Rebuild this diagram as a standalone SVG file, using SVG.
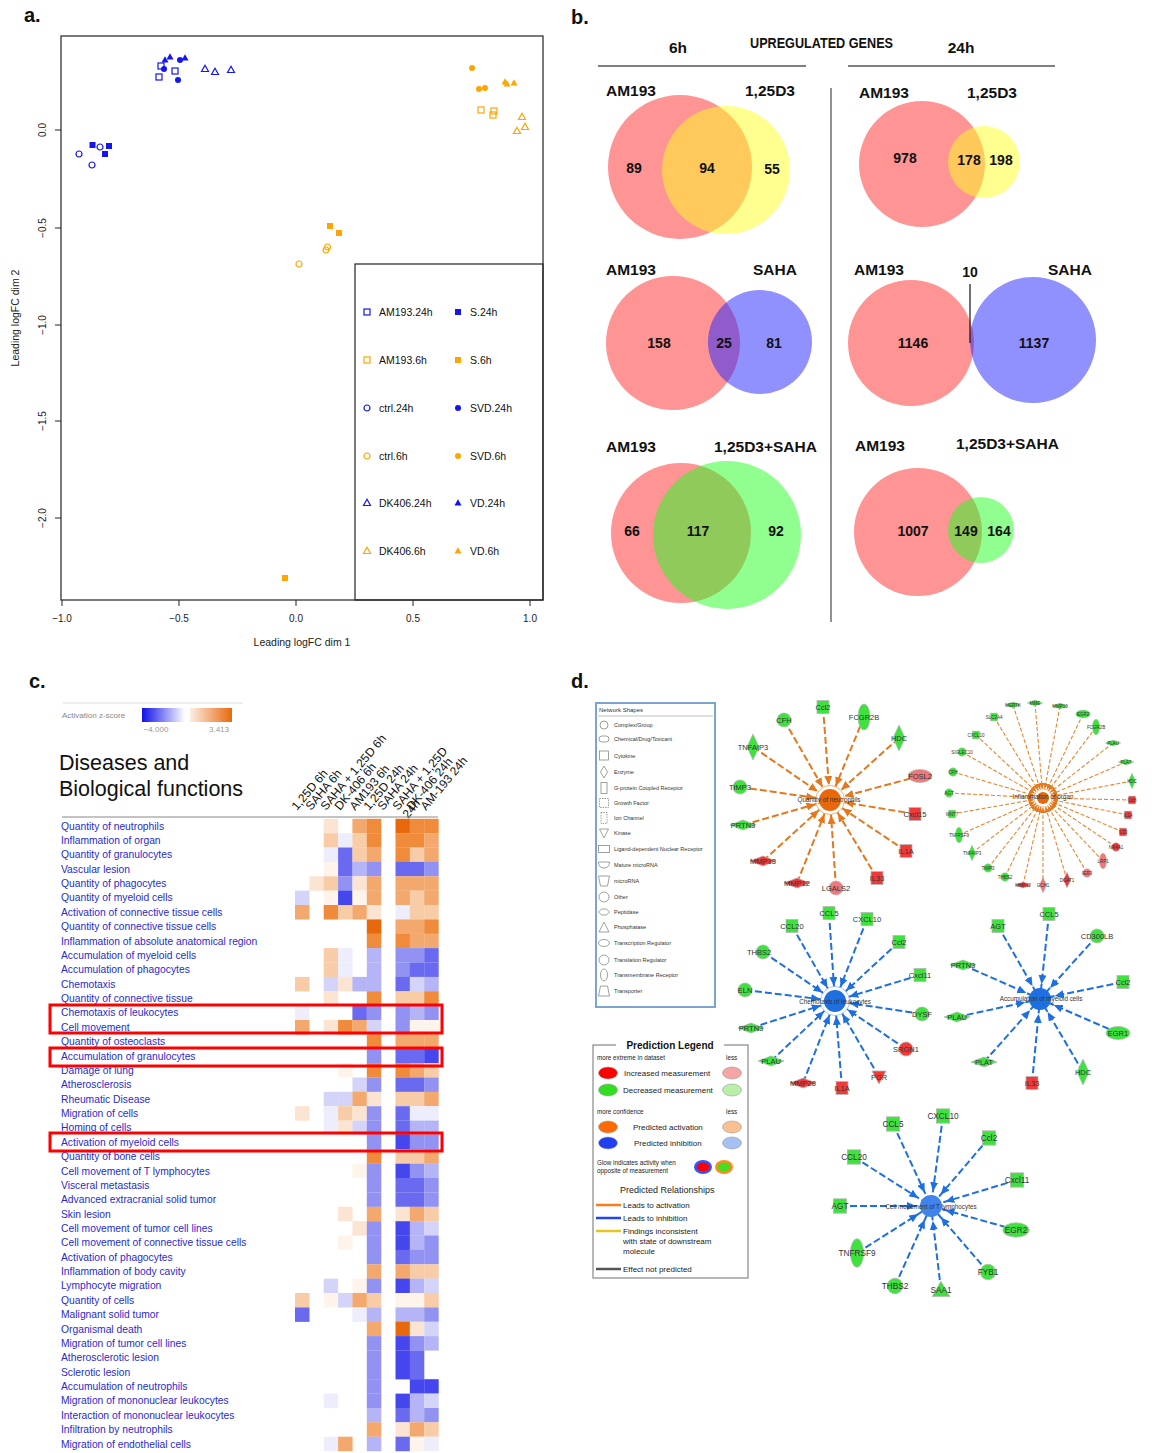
<svg xmlns="http://www.w3.org/2000/svg" width="1152" height="1453" viewBox="0 0 1152 1453">
<style>
text{font-family:"Liberation Sans",Arial,sans-serif}
.pl{font-weight:bold;font-size:20px;fill:#111}
.ax{font-size:10px;fill:#222}
.lg{font-size:10.5px;fill:#111}
.bl{fill:#1515F0}.blo{fill:none;stroke:#1515F0;stroke-width:1.2}
.or{fill:#FFA500}.oro{fill:none;stroke:#FFA500;stroke-width:1.2}
.vt{font-weight:bold;font-size:15.5px;fill:#111}
.vn{font-weight:bold;font-size:14px;fill:#111;text-anchor:middle}
.vr{fill:#FF2A2A;fill-opacity:.5}
.vy{fill:#FFFF22;fill-opacity:.5}
.vb{fill:#2222FF;fill-opacity:.5}
.vg{fill:#22FF22;fill-opacity:.5}
.hm rect{width:14.5px;height:14.5px}
.hm text{font-size:10.3px;fill:#2A2ACB}
.O3{fill:#E8690C}.O2{fill:#EF8B3B}.O1{fill:#F3A86E}.O0{fill:#F8CCA6}.Ol{fill:#FCE4D2}.Ow{fill:#FEF4EC}
.B3{fill:#4646EE}.B2{fill:#6A6AF0}.B1{fill:#9292F3}.B0{fill:#B4B4F6}.Bl{fill:#D4D4F9}.Bw{fill:#EDEDFC}
.ch{font-size:12px;fill:#111}
.rb{fill:none;stroke:#FF0000;stroke-width:3}
.g{fill:#3DE23D;stroke:#B8B8B8;stroke-width:.8}
.r{fill:#EF3A3A;stroke:#B8B8B8;stroke-width:.8}
.p{fill:#F07878;stroke:#B8B8B8;stroke-width:.8}
.nl{font-size:7.5px;fill:#333;text-anchor:middle}
.cl{font-size:6.3px;fill:#333;text-anchor:middle}
.eo{stroke:#E5781C;stroke-width:2;stroke-dasharray:7 3;fill:none}
.eo2{stroke:#E8862E;stroke-width:1.1;stroke-dasharray:4 2;fill:none}
.eb{stroke:#1E6FE0;stroke-width:2;stroke-dasharray:7 3;fill:none}
.ns{fill:none;stroke:#888;stroke-width:.8}
.nt{font-size:5.5px;fill:#333}
.pt{font-size:8px;fill:#222}
.ps{font-size:6.3px;fill:#222}
</style>
<defs>
<rect id="msq" x="-3" y="-3" width="6" height="6"/>
<circle id="mci" r="3"/>
<path id="mtr" d="M0,-3.8L3.5,2.5L-3.5,2.5Z"/>
<rect id="sq" x="-6" y="-6.5" width="12" height="13"/>
<circle id="ci" r="7"/>
<ellipse id="ev" rx="6" ry="13"/>
<ellipse id="eh" rx="12" ry="6.5"/>
<path id="dv" d="M0,-13L6,0L0,13L-6,0Z"/>
<path id="dh" d="M-13,0L0,-5L13,0L0,5Z"/>
<path id="td" d="M-7,-6L7,-6L0,7Z"/>
<path id="tu" d="M0,-8L8,6L-8,6Z"/>
<marker id="ao" markerUnits="userSpaceOnUse" markerWidth="9" markerHeight="8" refX="24" refY="4" orient="auto"><path d="M0,0L9,4L0,8z" fill="#E5781C"/></marker>
<marker id="ao2" markerUnits="userSpaceOnUse" markerWidth="6" markerHeight="5" refX="15" refY="2.5" orient="auto"><path d="M0,0L6,2.5L0,5z" fill="#E5781C"/></marker>
<marker id="ab" markerUnits="userSpaceOnUse" markerWidth="9" markerHeight="8" refX="24" refY="4" orient="auto"><path d="M0,0L9,4L0,8z" fill="#1E6FE0"/></marker>
<linearGradient id="gb"><stop offset="0" stop-color="#1010E8"/><stop offset="1" stop-color="#FFFFFF"/></linearGradient>
<linearGradient id="go"><stop offset="0" stop-color="#FCEEE4"/><stop offset="1" stop-color="#E8690C"/></linearGradient>
</defs>

<!-- ============ Panel a ============ -->
<g id="panel-a">
<text class="pl" x="24" y="22">a.</text>
<rect x="61" y="36" width="482" height="564" fill="none" stroke="#222" stroke-width="1.2"/>
<rect x="355" y="264" width="188" height="336" fill="none" stroke="#222" stroke-width="1.2"/>
<g stroke="#222" stroke-width="1">
<line x1="62" y1="600" x2="62" y2="606"/><line x1="179" y1="600" x2="179" y2="606"/><line x1="296" y1="600" x2="296" y2="606"/><line x1="413" y1="600" x2="413" y2="606"/><line x1="530" y1="600" x2="530" y2="606"/>
<line x1="55" y1="130" x2="61" y2="130"/><line x1="55" y1="228" x2="61" y2="228"/><line x1="55" y1="325" x2="61" y2="325"/><line x1="55" y1="421" x2="61" y2="421"/><line x1="55" y1="518" x2="61" y2="518"/>
</g>
<g class="ax" text-anchor="middle">
<text x="62" y="622">−1.0</text><text x="179" y="622">−0.5</text><text x="296" y="622">0.0</text><text x="413" y="622">0.5</text><text x="530" y="622">1.0</text>
<text transform="translate(46,130) rotate(-90)">0.0</text>
<text transform="translate(46,228) rotate(-90)">−0.5</text>
<text transform="translate(46,325) rotate(-90)">−1.0</text>
<text transform="translate(46,421) rotate(-90)">−1.5</text>
<text transform="translate(46,518) rotate(-90)">−2.0</text>
<text x="302" y="646" font-size="10.5">Leading logFC dim 1</text>
<text transform="translate(19,318) rotate(-90)" font-size="10.5">Leading logFC dim 2</text>
</g>
<g id="points">
<use href="#mci" class="blo" x="79" y="154"/><use href="#mci" class="blo" x="92" y="165"/><use href="#mci" class="blo" x="100" y="147"/>
<use href="#msq" class="bl" x="92.5" y="145"/><use href="#msq" class="bl" x="109" y="146"/><use href="#msq" class="bl" x="105" y="154"/>
<use href="#msq" class="blo" x="159" y="77"/><use href="#msq" class="blo" x="161" y="66"/><use href="#msq" class="blo" x="175" y="71"/>
<use href="#mci" class="bl" x="164" y="69"/><use href="#mci" class="bl" x="180" y="60"/><use href="#mci" class="bl" x="178" y="80"/>
<use href="#mtr" class="bl" x="165" y="60"/><use href="#mtr" class="bl" x="170" y="57"/><use href="#mtr" class="bl" x="185" y="58"/>
<use href="#mtr" class="blo" x="205" y="69"/><use href="#mtr" class="blo" x="215" y="72"/><use href="#mtr" class="blo" x="231" y="70"/>
<use href="#mci" class="or" x="472" y="68"/><use href="#mci" class="or" x="479" y="89"/><use href="#mci" class="or" x="485" y="88"/>
<use href="#mtr" class="or" x="505" y="82"/><use href="#mtr" class="or" x="507" y="84"/><use href="#mtr" class="or" x="514" y="83"/>
<use href="#msq" class="oro" x="481" y="110"/><use href="#msq" class="oro" x="494" y="111"/><use href="#msq" class="oro" x="493" y="115"/>
<use href="#mtr" class="oro" x="522" y="117"/><use href="#mtr" class="oro" x="517" y="131"/><use href="#mtr" class="oro" x="525" y="127"/>
<use href="#msq" class="or" x="330" y="226"/><use href="#msq" class="or" x="339" y="233"/><use href="#msq" class="or" x="285" y="578"/>
<use href="#mci" class="oro" x="326" y="250"/><use href="#mci" class="oro" x="327.5" y="247"/><use href="#mci" class="oro" x="299" y="264"/>
</g>
<g id="legend-a">
<use href="#msq" class="blo" x="367" y="312"/><text class="lg" x="379" y="316">AM193.24h</text>
<use href="#msq" class="bl" x="458" y="312"/><text class="lg" x="470" y="316">S.24h</text>
<use href="#msq" class="oro" x="367" y="360"/><text class="lg" x="379" y="364">AM193.6h</text>
<use href="#msq" class="or" x="458" y="360"/><text class="lg" x="470" y="364">S.6h</text>
<use href="#mci" class="blo" x="367" y="408"/><text class="lg" x="379" y="412">ctrl.24h</text>
<use href="#mci" class="bl" x="458" y="408"/><text class="lg" x="470" y="412">SVD.24h</text>
<use href="#mci" class="oro" x="367" y="456"/><text class="lg" x="379" y="460">ctrl.6h</text>
<use href="#mci" class="or" x="458" y="456"/><text class="lg" x="470" y="460">SVD.6h</text>
<use href="#mtr" class="blo" x="367" y="503"/><text class="lg" x="379" y="507">DK406.24h</text>
<use href="#mtr" class="bl" x="458" y="503"/><text class="lg" x="470" y="507">VD.24h</text>
<use href="#mtr" class="oro" x="367" y="551"/><text class="lg" x="379" y="555">DK406.6h</text>
<use href="#mtr" class="or" x="458" y="551"/><text class="lg" x="470" y="555">VD.6h</text>
</g>
</g>

<!-- ============ Panel b ============ -->
<g id="panel-b">
<text class="pl" x="571" y="24">b.</text>
<text class="vt" x="678" y="53" font-size="14" text-anchor="middle">6h</text>
<text class="vt" x="750" y="48" font-size="13" textLength="143" lengthAdjust="spacingAndGlyphs">UPREGULATED GENES</text>
<text class="vt" x="961" y="53" font-size="14" text-anchor="middle">24h</text>
<g stroke="#555" stroke-width="1.3">
<line x1="598" y1="66" x2="806" y2="66"/><line x1="848" y1="66" x2="1055" y2="66"/><line x1="831" y1="88" x2="831" y2="622"/>
</g>
<g id="venn-6h-125D3">
<circle class="vr" cx="680" cy="167" r="72"/><circle class="vy" cx="726" cy="170" r="64"/>
<text class="vt" x="606" y="96">AM193</text><text class="vt" x="745" y="96">1,25D3</text>
<text class="vn" x="634" y="173">89</text><text class="vn" x="707" y="173">94</text><text class="vn" x="772" y="174">55</text>
</g>
<g id="venn-24h-125D3">
<circle class="vr" cx="922" cy="164" r="63"/><circle class="vy" cx="984" cy="162" r="36"/>
<text class="vt" x="859" y="98">AM193</text><text class="vt" x="967" y="98">1,25D3</text>
<text class="vn" x="905" y="163">978</text><text class="vn" x="969" y="165">178</text><text class="vn" x="1001" y="165">198</text>
</g>
<g id="venn-6h-SAHA">
<circle class="vr" cx="673" cy="343" r="67"/><circle class="vb" cx="760" cy="342" r="52"/>
<text class="vt" x="606" y="275">AM193</text><text class="vt" x="753" y="275">SAHA</text>
<text class="vn" x="659" y="348">158</text><text class="vn" x="724" y="348">25</text><text class="vn" x="774" y="348">81</text>
</g>
<g id="venn-24h-SAHA">
<circle class="vr" cx="911" cy="343" r="63"/><circle class="vb" cx="1033" cy="340" r="63"/>
<text class="vt" x="854" y="275">AM193</text><text class="vt" x="1048" y="275">SAHA</text>
<text class="vn" x="970" y="277">10</text>
<line x1="970" y1="284" x2="970" y2="343" stroke="#111" stroke-width="1.2"/>
<text class="vn" x="913" y="348">1146</text><text class="vn" x="1034" y="348">1137</text>
</g>
<g id="venn-6h-combo">
<circle class="vr" cx="681" cy="533" r="70"/><circle class="vg" cx="727" cy="535" r="74"/>
<text class="vt" x="606" y="452">AM193</text><text class="vt" x="714" y="452">1,25D3+SAHA</text>
<text class="vn" x="632" y="536">66</text><text class="vn" x="698" y="536">117</text><text class="vn" x="776" y="536">92</text>
</g>
<g id="venn-24h-combo">
<circle class="vr" cx="918" cy="532" r="64"/><circle class="vg" cx="981" cy="530" r="33"/>
<text class="vt" x="855" y="451">AM193</text><text class="vt" x="956" y="449">1,25D3+SAHA</text>
<text class="vn" x="913" y="536">1007</text><text class="vn" x="966" y="536">149</text><text class="vn" x="999" y="536">164</text>
</g>
</g>

<!-- ============ Panel c ============ -->
<g id="panel-c">
<text class="pl" x="29" y="688">c.</text>
<line x1="63" y1="703" x2="243" y2="703" stroke="#DDD"/>
<text x="62" y="718" font-size="8" fill="#888">Activation z-score</text>
<rect x="142" y="708" width="43" height="14" fill="url(#gb)"/>
<rect x="190" y="708" width="42" height="14" fill="url(#go)"/>
<text x="156" y="732" font-size="8" fill="#999" text-anchor="middle">−4.000</text>
<text x="219" y="732" font-size="8" fill="#999" text-anchor="middle">3.413</text>
<text x="59" y="770" font-size="21.5" fill="#111">Diseases and</text>
<text x="59" y="796" font-size="21.5" fill="#111">Biological functions</text>
<g class="ch">
<text transform="translate(297,811) rotate(-50)">1,25D 6h</text>
<text transform="translate(311,811) rotate(-50)">SAHA 6h</text>
<text transform="translate(326,811) rotate(-50)">SAHA + 1,25D 6h</text>
<text transform="translate(340,811) rotate(-50)">DK-406 6h</text>
<text transform="translate(355,811) rotate(-50)">AM193 6h</text>
<text transform="translate(369,811) rotate(-50)">1,25D 24h</text>
<text transform="translate(383,811) rotate(-50)">SAHA 24h</text>
<text transform="translate(398,811) rotate(-50)">SAHA + 1,25D</text>
<text transform="translate(408,819) rotate(-50)">24h</text>
<text transform="translate(412,811) rotate(-50)">DK-406 24h</text>
<text transform="translate(426,811) rotate(-50)">AM-193 24h</text>
</g>
<line x1="62" y1="817" x2="438" y2="817" stroke="#888" stroke-width="1"/>
<g class="hm">
<g transform="translate(0,818.8)"><text x="61" y="10.9">Quantity of neutrophils</text><rect x="323.7" class="Ol"/><rect x="352.4" class="O1"/><rect x="366.8" class="O2"/><rect x="395.5" class="O3"/><rect x="409.8" class="O2"/><rect x="424.2" class="O2"/></g>
<g transform="translate(0,833.2)"><text x="61" y="10.9">Inflammation of organ</text><rect x="323.7" class="O0"/><rect x="338.1" class="Bw"/><rect x="352.4" class="O0"/><rect x="366.8" class="O2"/><rect x="395.5" class="O2"/><rect x="409.8" class="O2"/><rect x="424.2" class="O1"/></g>
<g transform="translate(0,847.5)"><text x="61" y="10.9">Quantity of granulocytes</text><rect x="323.7" class="Bw"/><rect x="338.1" class="B2"/><rect x="352.4" class="O0"/><rect x="366.8" class="O1"/><rect x="395.5" class="O2"/><rect x="409.8" class="O0"/><rect x="424.2" class="O1"/></g>
<g transform="translate(0,861.9)"><text x="61" y="10.9">Vascular lesion</text><rect x="323.7" class="Ow"/><rect x="338.1" class="B2"/><rect x="352.4" class="B0"/><rect x="366.8" class="B1"/><rect x="395.5" class="B2"/><rect x="409.8" class="B2"/><rect x="424.2" class="B1"/></g>
<g transform="translate(0,876.3)"><text x="61" y="10.9">Quantity of phagocytes</text><rect x="309.4" class="Ol"/><rect x="323.7" class="O0"/><rect x="338.1" class="B1"/><rect x="352.4" class="Ol"/><rect x="366.8" class="O1"/><rect x="395.5" class="O1"/><rect x="409.8" class="O1"/><rect x="424.2" class="O1"/></g>
<g transform="translate(0,890.6)"><text x="61" y="10.9">Quantity of myeloid cells</text><rect x="295" class="Bl"/><rect x="323.7" class="Ow"/><rect x="338.1" class="B3"/><rect x="352.4" class="Ow"/><rect x="366.8" class="O1"/><rect x="395.5" class="O1"/><rect x="409.8" class="O0"/><rect x="424.2" class="O1"/></g>
<g transform="translate(0,905)"><text x="61" y="10.9">Activation of connective tissue cells</text><rect x="295" class="O1"/><rect x="323.7" class="O2"/><rect x="338.1" class="O0"/><rect x="352.4" class="O1"/><rect x="366.8" class="Ol"/><rect x="395.5" class="Bw"/><rect x="409.8" class="O0"/><rect x="424.2" class="O0"/></g>
<g transform="translate(0,919.4)"><text x="61" y="10.9">Quantity of connective tissue cells</text><rect x="366.8" class="O3"/><rect x="395.5" class="O1"/><rect x="409.8" class="O1"/><rect x="424.2" class="O2"/></g>
<g transform="translate(0,933.8)"><text x="61" y="10.9">Inflammation of absolute anatomical region</text><rect x="366.8" class="O2"/><rect x="395.5" class="O2"/><rect x="409.8" class="O1"/><rect x="424.2" class="O1"/></g>
<g transform="translate(0,948.1)"><text x="61" y="10.9">Accumulation of myeloid cells</text><rect x="323.7" class="O0"/><rect x="338.1" class="Bw"/><rect x="366.8" class="B0"/><rect x="395.5" class="B1"/><rect x="409.8" class="B1"/><rect x="424.2" class="B2"/></g>
<g transform="translate(0,962.5)"><text x="61" y="10.9">Accumulation of phagocytes</text><rect x="323.7" class="O0"/><rect x="338.1" class="Bw"/><rect x="366.8" class="B0"/><rect x="395.5" class="B1"/><rect x="409.8" class="B2"/><rect x="424.2" class="B2"/></g>
<g transform="translate(0,976.9)"><text x="61" y="10.9">Chemotaxis</text><rect x="295" class="O0"/><rect x="323.7" class="Bl"/><rect x="338.1" class="Ol"/><rect x="352.4" class="B0"/><rect x="366.8" class="B0"/><rect x="395.5" class="B2"/><rect x="409.8" class="Bl"/><rect x="424.2" class="B0"/></g>
<g transform="translate(0,991.2)"><text x="61" y="10.9">Quantity of connective tissue</text><rect x="323.7" class="Ol"/><rect x="366.8" class="O2"/><rect x="395.5" class="O0"/><rect x="409.8" class="O0"/><rect x="424.2" class="O2"/></g>
<g transform="translate(0,1005.6)"><text x="61" y="10.9">Chemotaxis of leukocytes</text><rect x="295" class="Bw"/><rect x="352.4" class="B2"/><rect x="366.8" class="B1"/><rect x="395.5" class="B1"/><rect x="409.8" class="B0"/><rect x="424.2" class="B1"/></g>
<g transform="translate(0,1020)"><text x="61" y="10.9">Cell movement</text><rect x="295" class="O1"/><rect x="323.7" class="Ol"/><rect x="338.1" class="O2"/><rect x="352.4" class="O1"/><rect x="366.8" class="Bl"/><rect x="395.5" class="B1"/><rect x="409.8" class="Ow"/><rect x="424.2" class="Ow"/></g>
<g transform="translate(0,1034.3)"><text x="61" y="10.9">Quantity of osteoclasts</text><rect x="366.8" class="O2"/><rect x="395.5" class="O1"/><rect x="409.8" class="O1"/><rect x="424.2" class="O1"/></g>
<g transform="translate(0,1048.7)"><text x="61" y="10.9">Accumulation of granulocytes</text><rect x="366.8" class="B1"/><rect x="395.5" class="B2"/><rect x="409.8" class="B2"/><rect x="424.2" class="B3"/></g>
<g transform="translate(0,1063.1)"><text x="61" y="10.9">Damage of lung</text><rect x="338.1" class="Ow"/><rect x="366.8" class="O2"/><rect x="395.5" class="O2"/><rect x="409.8" class="O1"/><rect x="424.2" class="O0"/></g>
<g transform="translate(0,1077.5)"><text x="61" y="10.9">Atherosclerosis</text><rect x="352.4" class="Bl"/><rect x="366.8" class="B1"/><rect x="395.5" class="B2"/><rect x="409.8" class="B2"/><rect x="424.2" class="B1"/></g>
<g transform="translate(0,1091.8)"><text x="61" y="10.9">Rheumatic Disease</text><rect x="323.7" class="Bl"/><rect x="338.1" class="Bl"/><rect x="352.4" class="O1"/><rect x="366.8" class="Ol"/><rect x="395.5" class="O0"/><rect x="409.8" class="O0"/><rect x="424.2" class="O1"/></g>
<g transform="translate(0,1106.2)"><text x="61" y="10.9">Migration of cells</text><rect x="295" class="Ol"/><rect x="323.7" class="Bw"/><rect x="338.1" class="O0"/><rect x="352.4" class="Ol"/><rect x="366.8" class="B1"/><rect x="395.5" class="B2"/><rect x="409.8" class="Bw"/><rect x="424.2" class="Bw"/></g>
<g transform="translate(0,1120.6)"><text x="61" y="10.9">Homing of cells</text><rect x="323.7" class="Bw"/><rect x="338.1" class="Ol"/><rect x="352.4" class="Bl"/><rect x="366.8" class="B1"/><rect x="395.5" class="B2"/><rect x="409.8" class="B0"/><rect x="424.2" class="B0"/></g>
<g transform="translate(0,1134.9)"><text x="61" y="10.9">Activation of myeloid cells</text><rect x="366.8" class="B1"/><rect x="395.5" class="B3"/><rect x="409.8" class="B1"/><rect x="424.2" class="B1"/></g>
<g transform="translate(0,1149.3)"><text x="61" y="10.9">Quantity of bone cells</text><rect x="366.8" class="O2"/><rect x="395.5" class="O0"/><rect x="409.8" class="O0"/><rect x="424.2" class="O1"/></g>
<g transform="translate(0,1163.7)"><text x="61" y="10.9">Cell movement of T lymphocytes</text><rect x="352.4" class="Ow"/><rect x="366.8" class="B1"/><rect x="395.5" class="B3"/><rect x="409.8" class="B1"/><rect x="424.2" class="B0"/></g>
<g transform="translate(0,1178)"><text x="61" y="10.9">Visceral metastasis</text><rect x="366.8" class="B1"/><rect x="395.5" class="B2"/><rect x="409.8" class="B2"/><rect x="424.2" class="B1"/></g>
<g transform="translate(0,1192.4)"><text x="61" y="10.9">Advanced extracranial solid tumor</text><rect x="366.8" class="B1"/><rect x="395.5" class="B2"/><rect x="409.8" class="B2"/><rect x="424.2" class="B1"/></g>
<g transform="translate(0,1206.8)"><text x="61" y="10.9">Skin lesion</text><rect x="338.1" class="Ol"/><rect x="366.8" class="O1"/><rect x="395.5" class="Ol"/><rect x="409.8" class="O1"/><rect x="424.2" class="O0"/></g>
<g transform="translate(0,1221.2)"><text x="61" y="10.9">Cell movement of tumor cell lines</text><rect x="352.4" class="Ol"/><rect x="366.8" class="B1"/><rect x="395.5" class="B3"/><rect x="409.8" class="B0"/><rect x="424.2" class="Bl"/></g>
<g transform="translate(0,1235.5)"><text x="61" y="10.9">Cell movement of connective tissue cells</text><rect x="338.1" class="Ow"/><rect x="366.8" class="B1"/><rect x="395.5" class="B3"/><rect x="409.8" class="B0"/><rect x="424.2" class="B1"/></g>
<g transform="translate(0,1249.9)"><text x="61" y="10.9">Activation of phagocytes</text><rect x="366.8" class="B1"/><rect x="395.5" class="B2"/><rect x="409.8" class="B1"/><rect x="424.2" class="B1"/></g>
<g transform="translate(0,1264.3)"><text x="61" y="10.9">Inflammation of body cavity</text><rect x="366.8" class="O1"/><rect x="395.5" class="O1"/><rect x="409.8" class="O0"/><rect x="424.2" class="O0"/></g>
<g transform="translate(0,1278.6)"><text x="61" y="10.9">Lymphocyte migration</text><rect x="323.7" class="Bl"/><rect x="352.4" class="Ow"/><rect x="366.8" class="B1"/><rect x="395.5" class="B3"/><rect x="409.8" class="B0"/><rect x="424.2" class="Bl"/></g>
<g transform="translate(0,1293)"><text x="61" y="10.9">Quantity of cells</text><rect x="295" class="O0"/><rect x="323.7" class="Ow"/><rect x="338.1" class="Bl"/><rect x="352.4" class="O1"/><rect x="366.8" class="O0"/><rect x="395.5" class="Ow"/><rect x="409.8" class="Ow"/><rect x="424.2" class="O0"/></g>
<g transform="translate(0,1307.4)"><text x="61" y="10.9">Malignant solid tumor</text><rect x="295" class="B2"/><rect x="352.4" class="Bw"/><rect x="366.8" class="B0"/><rect x="395.5" class="B0"/><rect x="409.8" class="B0"/><rect x="424.2" class="B1"/></g>
<g transform="translate(0,1321.7)"><text x="61" y="10.9">Organismal death</text><rect x="366.8" class="O1"/><rect x="395.5" class="O3"/><rect x="409.8" class="Ol"/><rect x="424.2" class="Bl"/></g>
<g transform="translate(0,1336.1)"><text x="61" y="10.9">Migration of tumor cell lines</text><rect x="366.8" class="B1"/><rect x="395.5" class="B3"/><rect x="409.8" class="B1"/><rect x="424.2" class="B0"/></g>
<g transform="translate(0,1350.5)"><text x="61" y="10.9">Atherosclerotic lesion</text><rect x="366.8" class="B1"/><rect x="395.5" class="B3"/><rect x="409.8" class="B2"/></g>
<g transform="translate(0,1364.9)"><text x="61" y="10.9">Sclerotic lesion</text><rect x="366.8" class="B1"/><rect x="395.5" class="B3"/><rect x="409.8" class="B2"/></g>
<g transform="translate(0,1379.2)"><text x="61" y="10.9">Accumulation of neutrophils</text><rect x="366.8" class="B1"/><rect x="409.8" class="B3"/><rect x="424.2" class="B3"/></g>
<g transform="translate(0,1393.6)"><text x="61" y="10.9">Migration of mononuclear leukocytes</text><rect x="323.7" class="Bw"/><rect x="366.8" class="B1"/><rect x="395.5" class="B3"/><rect x="409.8" class="B0"/><rect x="424.2" class="Bl"/></g>
<g transform="translate(0,1408)"><text x="61" y="10.9">Interaction of mononuclear leukocytes</text><rect x="366.8" class="B0"/><rect x="395.5" class="B2"/><rect x="409.8" class="B0"/><rect x="424.2" class="B1"/></g>
<g transform="translate(0,1422.3)"><text x="61" y="10.9">Infiltration by neutrophils</text><rect x="366.8" class="O1"/><rect x="395.5" class="Ol"/><rect x="409.8" class="O1"/><rect x="424.2" class="O0"/></g>
<g transform="translate(0,1436.7)"><text x="61" y="10.9">Migration of endothelial cells</text><rect x="323.7" class="Bw"/><rect x="338.1" class="O1"/><rect x="366.8" class="B0"/><rect x="395.5" class="B2"/><rect x="409.8" class="Ow"/><rect x="424.2" class="Bw"/></g>
</g>
<rect class="rb" x="50" y="1005" width="392" height="28"/>
<rect class="rb" x="50" y="1048" width="392" height="18"/>
<rect class="rb" x="50" y="1133" width="392" height="18"/>
</g>

<!-- ============ Panel d ============ -->
<g id="panel-d">
<text class="pl" x="571" y="688">d.</text>

<g id="network-shapes-legend">
<rect x="596" y="703" width="119" height="304" fill="#fff" stroke="#7BA4D0" stroke-width="2"/>
<text x="599" y="712" font-size="6" fill="#333">Network Shapes</text>
<line x1="598" y1="716" x2="713" y2="716" stroke="#999" stroke-width=".6"/>
<circle class="ns" cx="604" cy="725" r="4" stroke-width="2"/><text class="nt" x="614" y="727">Complex/Group</text>
<rect class="ns" x="599" y="736" width="10" height="6" rx="3"/><text class="nt" x="614" y="741">Chemical/Drug/Toxicant</text>
<rect class="ns" x="599.5" y="751" width="9" height="9"/><text class="nt" x="614" y="758">Cytokine</text>
<path class="ns" d="M604,766L607.5,772L604,778L600.5,772Z"/><text class="nt" x="614" y="774">Enzyme</text>
<rect class="ns" x="601" y="782.5" width="6" height="11"/><text class="nt" x="614" y="790">G-protein Coupled Receptor</text>
<rect class="ns" x="599.5" y="798.5" width="9" height="9" stroke-dasharray="1.5 1"/><text class="nt" x="614" y="805">Growth Factor</text>
<rect class="ns" x="601" y="812.5" width="6" height="11" stroke-dasharray="1.5 1"/><text class="nt" x="614" y="820">Ion Channel</text>
<path class="ns" d="M599.5,829L608.5,829L604,838Z"/><text class="nt" x="614" y="835">Kinase</text>
<rect class="ns" x="598.5" y="845.5" width="11" height="7"/><text class="nt" x="614" y="851">Ligand-dependent Nuclear Receptor</text>
<path class="ns" d="M598.5,862L609.5,862Q609.5,868 604,868Q598.5,868 598.5,862Z"/><text class="nt" x="614" y="867">Mature microRNA</text>
<path class="ns" d="M598.5,876L609.5,876L607.5,886L600.5,886Z"/><text class="nt" x="614" y="883">microRNA</text>
<circle class="ns" cx="604" cy="897" r="5"/><text class="nt" x="614" y="899">Other</text>
<path class="ns" d="M598.5,912L601.5,909L606.5,909L609.5,912L606.5,915L601.5,915Z"/><text class="nt" x="614" y="914">Peptidase</text>
<path class="ns" d="M604,922L609,932L599,932Z"/><text class="nt" x="614" y="929">Phosphatase</text>
<ellipse class="ns" cx="604" cy="943" rx="5.5" ry="3.5"/><text class="nt" x="614" y="945">Transcription Regulator</text>
<circle class="ns" cx="604" cy="960" r="5"/><text class="nt" x="614" y="962">Translation Regulator</text>
<ellipse class="ns" cx="604" cy="975" rx="3.5" ry="6"/><text class="nt" x="614" y="977">Transmembrane Receptor</text>
<path class="ns" d="M600.5,986L607.5,986L609.5,996L598.5,996Z"/><text class="nt" x="614" y="993">Transporter</text>
</g>

<g id="prediction-legend">
<rect x="593" y="1045" width="155" height="233" fill="#fff" stroke="#888" stroke-width="1.2"/>
<rect x="616" y="1039" width="108" height="12" fill="#fff"/>
<text x="670" y="1049" font-size="10" font-weight="bold" fill="#111" text-anchor="middle">Prediction Legend</text>
<text class="ps" x="597" y="1060">more extreme in dataset</text><text class="ps" x="726" y="1060">less</text>
<ellipse cx="608" cy="1073" rx="9.5" ry="6" fill="#FF0000" stroke="#999" stroke-width=".6"/>
<text class="pt" x="624" y="1076">Increased measurement</text>
<ellipse cx="732" cy="1073" rx="9.5" ry="6" fill="#F4A6A6" stroke="#999" stroke-width=".6"/>
<ellipse cx="608" cy="1090" rx="9.5" ry="6" fill="#33DD22" stroke="#999" stroke-width=".6"/>
<text class="pt" x="623" y="1093">Decreased measurement</text>
<ellipse cx="732" cy="1090" rx="9.5" ry="6" fill="#B7F0A6" stroke="#999" stroke-width=".6"/>
<text class="ps" x="597" y="1114">more confidence</text><text class="ps" x="726" y="1114">less</text>
<ellipse cx="608" cy="1127" rx="9.5" ry="6" fill="#FF6A00" stroke="#999" stroke-width=".6"/>
<text class="pt" x="633" y="1130">Predicted activation</text>
<ellipse cx="732" cy="1127" rx="9.5" ry="6" fill="#FBC08F" stroke="#999" stroke-width=".6"/>
<ellipse cx="608" cy="1143" rx="9.5" ry="6" fill="#2040F0" stroke="#999" stroke-width=".6"/>
<text class="pt" x="634" y="1146">Predicted inhibition</text>
<ellipse cx="732" cy="1143" rx="9.5" ry="6" fill="#A6C0F4" stroke="#999" stroke-width=".6"/>
<text class="ps" x="597" y="1165">Glow indicates activity when</text>
<text class="ps" x="597" y="1173">opposite of measurement</text>
<ellipse cx="703" cy="1167" rx="9" ry="7" fill="#3355FF"/><ellipse cx="703" cy="1167" rx="6.3" ry="4.6" fill="#FF0000"/>
<ellipse cx="724" cy="1167" rx="9" ry="7" fill="#FF8A1E"/><ellipse cx="724" cy="1167" rx="6.3" ry="4.6" fill="#44DD22"/>
<text x="620" y="1193" font-size="9" fill="#222">Predicted Relationships</text>
<line x1="596" y1="1205" x2="621" y2="1205" stroke="#FF7A1A" stroke-width="2.5"/><text class="pt" x="623" y="1208">Leads to activation</text>
<line x1="596" y1="1218" x2="621" y2="1218" stroke="#2244EE" stroke-width="2.5"/><text class="pt" x="623" y="1221">Leads to inhibition</text>
<line x1="596" y1="1231" x2="621" y2="1231" stroke="#E5C61A" stroke-width="2.5"/><text class="pt" x="623" y="1234">Findings inconsistent</text>
<text class="pt" x="623" y="1244">with state of downstream</text><text class="pt" x="623" y="1254">molecule</text>
<line x1="596" y1="1269" x2="621" y2="1269" stroke="#555" stroke-width="2.5"/><text class="pt" x="623" y="1272">Effect not predicted</text>
</g>

<!-- connectors -->
<g id="connectors">
<g class="eo" marker-end="url(#ao)">
<line x1="823" y1="707" x2="830" y2="800"/><line x1="784" y1="720" x2="830" y2="800"/><line x1="864" y1="717" x2="830" y2="800"/><line x1="899" y1="738" x2="830" y2="800"/><line x1="753" y1="747" x2="830" y2="800"/><line x1="920" y1="776" x2="830" y2="800"/><line x1="740" y1="787" x2="830" y2="800"/><line x1="915" y1="814" x2="830" y2="800"/><line x1="743" y1="825" x2="830" y2="800"/><line x1="906" y1="851" x2="830" y2="800"/><line x1="763" y1="861" x2="830" y2="800"/><line x1="877" y1="878" x2="830" y2="800"/><line x1="797" y1="883" x2="830" y2="800"/><line x1="836" y1="888" x2="830" y2="800"/>
</g>
<g class="eo2" marker-end="url(#ao2)">
<line x1="1013" y1="705" x2="1043" y2="798"/><line x1="1035" y1="703" x2="1043" y2="798"/><line x1="1060" y1="706" x2="1043" y2="798"/><line x1="1083" y1="714" x2="1043" y2="798"/><line x1="994" y1="717" x2="1043" y2="798"/><line x1="1096" y1="727" x2="1043" y2="798"/><line x1="976" y1="735" x2="1043" y2="798"/><line x1="1113" y1="743" x2="1043" y2="798"/><line x1="962" y1="752" x2="1043" y2="798"/><line x1="1126" y1="762" x2="1043" y2="798"/><line x1="953" y1="772" x2="1043" y2="798"/><line x1="1132" y1="781" x2="1043" y2="798"/><line x1="949" y1="793" x2="1043" y2="798"/><line x1="1132" y1="800" x2="1043" y2="798"/><line x1="952" y1="814" x2="1043" y2="798"/><line x1="1128" y1="815" x2="1043" y2="798"/><line x1="1123" y1="832" x2="1043" y2="798"/><line x1="959" y1="835" x2="1043" y2="798"/><line x1="1116" y1="847" x2="1043" y2="798"/><line x1="972" y1="853" x2="1043" y2="798"/><line x1="1103" y1="861" x2="1043" y2="798"/><line x1="988" y1="868" x2="1043" y2="798"/><line x1="1087" y1="873" x2="1043" y2="798"/><line x1="1005" y1="877" x2="1043" y2="798"/><line x1="1023" y1="885" x2="1043" y2="798"/><line x1="1043" y1="885" x2="1043" y2="798"/><line x1="1067" y1="880" x2="1043" y2="798"/>
</g>
<g class="eb" marker-end="url(#ab)">
<line x1="829" y1="913" x2="835" y2="1001"/><line x1="792" y1="926" x2="835" y2="1001"/><line x1="867" y1="919" x2="835" y2="1001"/><line x1="899" y1="942" x2="835" y2="1001"/><line x1="763" y1="952" x2="835" y2="1001"/><line x1="920" y1="975" x2="835" y2="1001"/><line x1="745" y1="990" x2="835" y2="1001"/><line x1="922" y1="1014" x2="835" y2="1001"/><line x1="751" y1="1028" x2="835" y2="1001"/><line x1="906" y1="1049" x2="835" y2="1001"/><line x1="771" y1="1061" x2="835" y2="1001"/><line x1="879" y1="1077" x2="835" y2="1001"/><line x1="803" y1="1083" x2="835" y2="1001"/><line x1="842" y1="1088" x2="835" y2="1001"/>
<line x1="1049" y1="914" x2="1040" y2="999"/><line x1="998" y1="926" x2="1040" y2="999"/><line x1="1097" y1="936" x2="1040" y2="999"/><line x1="963" y1="965" x2="1040" y2="999"/><line x1="1123" y1="982" x2="1040" y2="999"/><line x1="957" y1="1017" x2="1040" y2="999"/><line x1="1118" y1="1033" x2="1040" y2="999"/><line x1="984" y1="1062" x2="1040" y2="999"/><line x1="1083" y1="1072" x2="1040" y2="999"/><line x1="1032" y1="1083" x2="1040" y2="999"/>
<line x1="893" y1="1124" x2="931" y2="1206"/><line x1="943" y1="1116" x2="931" y2="1206"/><line x1="989" y1="1138" x2="931" y2="1206"/><line x1="854" y1="1157" x2="931" y2="1206"/><line x1="1017" y1="1180" x2="931" y2="1206"/><line x1="840" y1="1206" x2="931" y2="1206"/><line x1="1016" y1="1230" x2="931" y2="1206"/><line x1="857" y1="1253" x2="931" y2="1206"/><line x1="988" y1="1272" x2="931" y2="1206"/><line x1="895" y1="1286" x2="931" y2="1206"/><line x1="941" y1="1290" x2="931" y2="1206"/>
</g>
</g>

<!-- network 1: Quantity of neutrophils -->
<g id="net1">
<g id="n1-center"><circle cx="830" cy="800" r="14.5" fill="#fff" stroke="#E8A060" stroke-width=".8"/><circle cx="830" cy="800" r="11" fill="#E8690C"/><text class="cl" x="829" y="802" font-size="6.8">Quantity of neutrophils</text></g>
<g id="n1-Ccl2" transform="translate(823,707)"><use href="#sq" class="g"/><text class="nl" y="2.5">Ccl2</text></g>
<g id="n1-CFH" transform="translate(784,720)"><use href="#ci" class="g"/><text class="nl" y="2.5">CFH</text></g>
<g id="n1-FCGR2B" transform="translate(864,717)"><use href="#ev" class="g"/><text class="nl" y="2.5">FCGR2B</text></g>
<g id="n1-HDC" transform="translate(899,738)"><use href="#dv" class="g"/><text class="nl" y="2.5">HDC</text></g>
<g id="n1-TNFAIP3" transform="translate(753,747)"><use href="#dv" class="g"/><text class="nl" y="2.5">TNFAIP3</text></g>
<g id="n1-FOSL2" transform="translate(920,776)"><use href="#eh" class="p"/><text class="nl" y="2.5">FOSL2</text></g>
<g id="n1-TIMP3" transform="translate(740,787)"><use href="#ci" class="g"/><text class="nl" y="2.5">TIMP3</text></g>
<g id="n1-Cxcl15" transform="translate(915,814)"><use href="#sq" class="r"/><text class="nl" y="2.5">Cxcl15</text></g>
<g id="n1-PRTN3" transform="translate(743,825)"><use href="#dh" class="g"/><text class="nl" y="2.5">PRTN3</text></g>
<g id="n1-IL1A" transform="translate(906,851)"><use href="#sq" class="r"/><text class="nl" y="2.5">IL1A</text></g>
<g id="n1-MMP13" transform="translate(763,861)"><use href="#dh" class="r"/><text class="nl" y="2.5">MMP13</text></g>
<g id="n1-IL33" transform="translate(877,878)"><use href="#sq" class="r"/><text class="nl" y="2.5">IL33</text></g>
<g id="n1-MMP12" transform="translate(797,883)"><use href="#dh" class="r"/><text class="nl" y="2.5">MMP12</text></g>
<g id="n1-LGALS2" transform="translate(836,888)"><use href="#ci" class="p"/><text class="nl" y="2.5">LGALS2</text></g>
</g>

<!-- network 2: Inflammation of organ -->
<g id="net2">
<g id="n2-center"><circle cx="1043" cy="798" r="9" fill="#fff" stroke="#E8A060" stroke-width=".6"/><circle cx="1043" cy="798" r="6" fill="#E8690C"/><text class="cl" x="1043" y="799" font-size="3.6">Inflammation of organ</text></g>
<g transform="translate(1013,705) scale(.6)"><use href="#dh" class="g"/><text class="nl" y="2.5">MERTK</text></g>
<g transform="translate(1035,703) scale(.6)"><use href="#dh" class="g"/><text class="nl" y="2.5">MME</text></g>
<g transform="translate(1060,706) scale(.6)"><use href="#dh" class="g"/><text class="nl" y="2.5">MMP10</text></g>
<g transform="translate(1083,714) scale(.6)"><use href="#eh" class="g"/><text class="nl" y="2.5">EGR2</text></g>
<g transform="translate(994,717) scale(.6)"><use href="#sq" class="g"/><text class="nl" y="2.5">SLC2A4</text></g>
<g transform="translate(1096,727) scale(.6)"><use href="#ev" class="g"/><text class="nl" y="2.5">FCGR2B</text></g>
<g transform="translate(976,735) scale(.6)"><use href="#sq" class="g"/><text class="nl" y="2.5">CXCL10</text></g>
<g transform="translate(1113,743) scale(.6)"><use href="#dh" class="g"/><text class="nl" y="2.5">PLAU</text></g>
<g transform="translate(962,752) scale(.6)"><use href="#ci" class="g"/><text class="nl" y="2.5">SIGLEC10</text></g>
<g transform="translate(1126,762) scale(.6)"><use href="#dh" class="g"/><text class="nl" y="2.5">PLAT</text></g>
<g transform="translate(953,772) scale(.6)"><use href="#ci" class="g"/><text class="nl" y="2.5">CFH</text></g>
<g transform="translate(1132,781) scale(.6)"><use href="#dv" class="g"/><text class="nl" y="2.5">HDC</text></g>
<g transform="translate(949,793) scale(.6)"><use href="#ci" class="g"/><text class="nl" y="2.5">AGT</text></g>
<g transform="translate(1132,800) scale(.6)"><use href="#sq" class="r"/><text class="nl" y="2.5">Ccl8</text></g>
<g transform="translate(952,814) scale(.6)"><use href="#sq" class="g"/><text class="nl" y="2.5">WNT7</text></g>
<g transform="translate(1128,815) scale(.6)"><use href="#sq" class="r"/><text class="nl" y="2.5">IL1A</text></g>
<g transform="translate(1123,832) scale(.6)"><use href="#sq" class="r"/><text class="nl" y="2.5">IL33</text></g>
<g transform="translate(959,835) scale(.6)"><use href="#ev" class="g"/><text class="nl" y="2.5">TNFRSF9</text></g>
<g transform="translate(1116,847) scale(.6)"><use href="#ci" class="r"/><text class="nl" y="2.5">NR4A1</text></g>
<g transform="translate(972,853) scale(.6)"><use href="#dv" class="g"/><text class="nl" y="2.5">TNFAIP3</text></g>
<g transform="translate(1103,861) scale(.6)"><use href="#ev" class="p"/><text class="nl" y="2.5">LRP1</text></g>
<g transform="translate(988,868) scale(.6)"><use href="#ci" class="g"/><text class="nl" y="2.5">TIMP3</text></g>
<g transform="translate(1087,873) scale(.6)"><use href="#ci" class="p"/><text class="nl" y="2.5">IER3</text></g>
<g transform="translate(1005,877) scale(.6)"><use href="#ci" class="g"/><text class="nl" y="2.5">THBS2</text></g>
<g transform="translate(1023,885) scale(.6)"><use href="#dh" class="r"/><text class="nl" y="2.5">MMP12</text></g>
<g transform="translate(1043,885) scale(.6)"><use href="#dv" class="p"/><text class="nl" y="2.5">GCH1</text></g>
<g transform="translate(1067,880) scale(.6)"><use href="#dv" class="r"/><text class="nl" y="2.5">DGAT1</text></g>
</g>

<!-- network 3: Chemotaxis of leukocytes -->
<g id="net3">
<g id="n3-center"><circle cx="835" cy="1001" r="14.5" fill="#fff" stroke="#9AB8E8" stroke-width=".8"/><circle cx="835" cy="1001" r="11" fill="#1E6FE0"/><text class="cl" x="835" y="1004">Chemotaxis of leukocytes</text></g>
<g transform="translate(829,913)"><use href="#sq" class="g"/><text class="nl" y="2.5">CCL5</text></g>
<g transform="translate(792,926)"><use href="#sq" class="g"/><text class="nl" y="2.5">CCL20</text></g>
<g transform="translate(867,919)"><use href="#sq" class="g"/><text class="nl" y="2.5">CXCL10</text></g>
<g transform="translate(899,942)"><use href="#sq" class="g"/><text class="nl" y="2.5">Ccl2</text></g>
<g transform="translate(763,952)"><use href="#ci" class="g"/><text class="nl" x="-4" y="2.5">THBS2</text></g>
<g transform="translate(920,975)"><use href="#sq" class="g"/><text class="nl" y="2.5">Cxcl11</text></g>
<g transform="translate(745,990)"><use href="#ci" class="g"/><text class="nl" y="2.5">ELN</text></g>
<g transform="translate(922,1014)"><use href="#ci" class="g"/><text class="nl" y="2.5">DYSF</text></g>
<g transform="translate(751,1028)"><use href="#dh" class="g"/><text class="nl" y="2.5">PRTN3</text></g>
<g transform="translate(906,1049)"><use href="#ci" class="r"/><text class="nl" y="2.5">SRGN1</text></g>
<g transform="translate(771,1061)"><use href="#dh" class="g"/><text class="nl" y="2.5">PLAU</text></g>
<g transform="translate(879,1077)"><use href="#td" class="r"/><text class="nl" y="2.5">PGR</text></g>
<g transform="translate(803,1083)"><use href="#dh" class="r"/><text class="nl" y="2.5">MMP28</text></g>
<g transform="translate(842,1088)"><use href="#sq" class="r"/><text class="nl" y="2.5">IL1A</text></g>
</g>

<!-- network 4: Accumulation of myeloid cells -->
<g id="net4">
<g id="n4-center"><circle cx="1040" cy="999" r="11" fill="#1E6FE0"/><text class="cl" x="1041" y="1001">Accumulation of myeloid cells</text></g>
<g transform="translate(1049,914)"><use href="#sq" class="g"/><text class="nl" y="2.5">CCL5</text></g>
<g transform="translate(998,926)"><use href="#sq" class="g"/><text class="nl" y="2.5">AGT</text></g>
<g transform="translate(1097,936)"><use href="#ci" class="g"/><text class="nl" y="2.5">CD300LB</text></g>
<g transform="translate(963,965)"><use href="#dh" class="g"/><text class="nl" y="2.5">PRTN3</text></g>
<g transform="translate(1123,982)"><use href="#sq" class="g"/><text class="nl" y="2.5">Ccl2</text></g>
<g transform="translate(957,1017)"><use href="#dh" class="g"/><text class="nl" y="2.5">PLAU</text></g>
<g transform="translate(1118,1033)"><use href="#eh" class="g"/><text class="nl" y="2.5">EGR1</text></g>
<g transform="translate(984,1062)"><use href="#dh" class="g"/><text class="nl" y="2.5">PLAT</text></g>
<g transform="translate(1083,1072)"><use href="#dv" class="g"/><text class="nl" y="2.5">HDC</text></g>
<g transform="translate(1032,1083)"><use href="#sq" class="r"/><text class="nl" y="2.5">IL33</text></g>
</g>

<!-- network 5: Cell movement of T lymphocytes -->
<g id="net5">
<g id="n5-center"><circle cx="931" cy="1206" r="11" fill="#3F84EA"/><text class="cl" x="931" y="1209" font-size="7">Cell movement of T lymphocytes</text></g>
<g transform="translate(893,1124) scale(1.1)"><use href="#sq" class="g"/><text class="nl" y="2.5">CCL5</text></g>
<g transform="translate(943,1116) scale(1.1)"><use href="#sq" class="g"/><text class="nl" y="2.5">CXCL10</text></g>
<g transform="translate(989,1138) scale(1.1)"><use href="#sq" class="g"/><text class="nl" y="2.5">Ccl2</text></g>
<g transform="translate(854,1157) scale(1.1)"><use href="#sq" class="g"/><text class="nl" y="2.5">CCL20</text></g>
<g transform="translate(1017,1180) scale(1.1)"><use href="#sq" class="g"/><text class="nl" y="2.5">Cxcl11</text></g>
<g transform="translate(840,1206) scale(1.1)"><use href="#sq" class="g"/><text class="nl" y="2.5">AGT</text></g>
<g transform="translate(1016,1230) scale(1.1)"><use href="#eh" class="g"/><text class="nl" y="2.5">EGR2</text></g>
<g transform="translate(857,1253) scale(1.1)"><use href="#ev" class="g"/><text class="nl" y="2.5">TNFRSF9</text></g>
<g transform="translate(988,1272) scale(1.1)"><use href="#ci" class="g"/><text class="nl" y="2.5">FYB1</text></g>
<g transform="translate(895,1286) scale(1.1)"><use href="#ci" class="g"/><text class="nl" y="2.5">THBS2</text></g>
<g transform="translate(941,1290) scale(1.1)"><use href="#tu" class="g"/><text class="nl" y="2.5">SAA1</text></g>
</g>
</g>
</svg>
